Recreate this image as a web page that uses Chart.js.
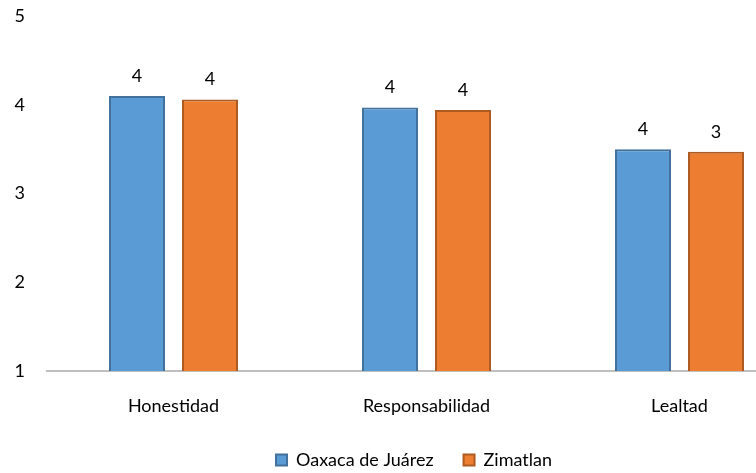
<!DOCTYPE html>
<html>
<head>
<meta charset="utf-8">
<script src="https://cdn.jsdelivr.net/npm/chart.js@4"></script>
<style>
  body { margin: 0; overflow: hidden; background: #fff; }
</style>
</head>
<body>
<canvas id="myChart" width="826" height="473"></canvas>
<script>
const categories = ['Honestidad', 'Responsabilidad', 'Lealtad']
const oaxaca = [4.10, 3.97, 3.50]
const zimatlan = [4.06, 3.94, 3.47]
const yTicks = [1, 2, 3, 4, 5]

const fontFamily = 'Lato, "Open Sans", sans-serif'

// values above each bar, rounded like the original
const barLabels = {
    id: 'barLabels',
    beforeInit(chart) {
        // keep the legend row close to the bottom edge
        const fit = chart.legend.fit
        chart.legend.fit = function () {
            fit.call(this)
            this.height = 52
        }
    },
    afterLayout(chart) {
        // legend sits a bit right of the canvas centre in the original
        chart.legend.left += 11
        chart.legend.right += 11
    },
    afterDatasetsDraw(chart) {
        const ctx = chart.ctx
        ctx.save()
        ctx.font = '18px ' + fontFamily
        ctx.fillStyle = '#000'
        ctx.textAlign = 'center'
        ctx.textBaseline = 'bottom'
        chart.data.datasets.forEach((ds, i) => {
            chart.getDatasetMeta(i).data.forEach((bar, j) => {
                ctx.fillText(Math.round(ds.data[j]), bar.x, bar.y - 11)
            })
        })
        ctx.restore()
    }
}

const myChartRef = document.getElementById('myChart').getContext('2d')
new Chart(myChartRef, {
    type: 'bar',
    data: {
        labels: categories,
        datasets: [
            {
                label: 'Oaxaca de Juárez',
                data: oaxaca,
                backgroundColor: '#5B9BD5',
                borderColor: '#41719C',
                borderWidth: 2
            },
            {
                label: 'Zimatlan',
                data: zimatlan,
                backgroundColor: '#ED7D31',
                borderColor: '#AE5A21',
                borderWidth: 2
            }
        ]
    },
    options: {
        responsive: false,
        animation: false,
        layout: { padding: { top: 16, right: 20, left: 0, bottom: 0 } },
        datasets: {
            bar: { barPercentage: 0.767, categoryPercentage: 0.577 }
        },
        scales: {
            x: {
                afterFit: scale => { scale.height = 50 },
                grid: { display: false },
                border: { display: true, color: '#BFBFBF', width: 2 },
                ticks: { color: '#000', font: { family: fontFamily, size: 18 }, padding: 16 }
            },
            y: {
                min: 1,
                max: 5,
                afterBuildTicks: scale => { scale.ticks = yTicks.map(v => ({ value: v })) },
                afterFit: scale => { scale.width = 47 },
                grid: { display: false, drawTicks: true, tickLength: 22 },
                border: { display: false },
                ticks: { color: '#000', font: { family: fontFamily, size: 18 }, padding: 0 }
            }
        },
        plugins: {
            legend: {
                position: 'bottom',
                labels: {
                    color: '#000',
                    boxWidth: 11,
                    boxHeight: 11,
                    padding: 30,
                    font: { family: fontFamily, size: 18 }
                }
            },
            tooltip: { enabled: false }
        }
    },
    plugins: [barLabels]
})
</script>
</body>
</html>
